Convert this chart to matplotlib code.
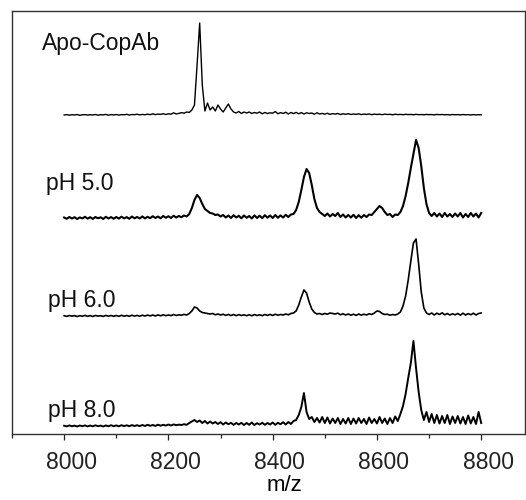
import numpy as np
import matplotlib
matplotlib.use("Agg")
import matplotlib.pyplot as plt
import matplotlib.transforms as mtransforms

# ---------------- data ----------------
mz_start, mz_step, n_pts = 8000, 5, 161
mz = [mz_start + mz_step * i for i in range(n_pts)]

labels = ["Apo-CopAb", "pH 5.0", "pH 6.0", "pH 8.0"]

apo = [
    0.0, 0.4, -0.2, 0.3, 0.0, 0.5, -0.3, 0.2, 0.4, -0.1,
    0.3, 0.0, 0.5, -0.2, 0.3, 0.1, 0.6, -0.2, 0.4, 0.0,
    0.5, -0.1, 0.4, 0.2, 0.7, 0.0, 0.5, 0.3, 0.8, 0.1,
    0.6, 0.2, 0.9, 0.3, 1.2, 0.4, 0.9, 0.6, 1.3, 0.5,
    1.2, 0.8, 2.2, 1.0, 1.6, 2.4, 1.8, 3.0, 2.6, 5.0,
    10.0, 50.0, 92.0, 30.0, 4.0, 12.0, 5.0, 8.0, 4.0, 10.0,
    6.0, 3.0, 7.0, 11.0, 6.0, 3.0, 2.0, 3.5, 1.5, 3.0,
    2.0, 3.0, 1.5, 2.5, 1.8, 3.0, 1.2, 2.5, 1.5, 2.2,
    1.8, 3.5, 1.2, 2.4, 1.5, 2.8, 1.0, 2.5, 1.4, 2.6,
    1.2, 2.4, 1.0, 2.2, 1.5, 2.0, 0.8, 2.2, 1.0, 1.6,
    0.8, 1.8, 0.6, 1.4, 0.9, 1.5, 0.5, 1.2, 0.7, 1.3,
    0.5, 1.0, 0.6, 1.2, 0.4, 0.9, 0.6, 1.0, 0.3, 0.9,
    0.5, 0.8, 0.3, 0.9, 0.5, 0.7, 0.2, 0.8, 0.4, 0.6,
    0.3, 0.7, 0.4, 0.6, 0.2, 0.7, 0.3, 0.5, 0.2, 0.6,
    0.3, 0.5, 0.1, 0.6, 0.3, 0.5, 0.2, 0.4, 0.1, 0.5,
    0.2, 0.4, 0.1, 0.5, 0.2, 0.4, 0.0, 0.4, 0.1, 0.3, 0.2,
]

ph5 = [
    0.5, -0.8, 1.0, -0.5, 0.8, -1.0, 0.6, -0.4, 1.2, -0.6,
    0.8, -0.9, 1.0, -0.3, 0.7, -1.0, 1.2, -0.5, 0.9, -0.7,
    1.0, -0.6, 1.3, -0.4, 0.9, -0.8, 1.5, -0.3, 1.0, -0.5,
    1.6, -0.4, 1.2, -0.2, 1.8, 0.0, 1.5, -0.3, 2.0, 0.2,
    1.8, 0.0, 2.2, 0.5, 2.0, 0.8, 2.5, 1.5, 4.0, 10.0,
    18.0, 23.0, 20.0, 14.0, 9.0, 7.0, 5.0, 4.5, 3.0, 3.5,
    1.5, 3.0, 0.5, 2.5, 0.0, 2.8, 0.5, 2.2, -0.3, 2.5,
    0.2, 2.0, -0.5, 2.6, 0.0, 2.3, -0.2, 2.8, 0.3, 2.5,
    0.0, 3.0, 0.2, 2.6, 0.5, 3.2, 1.0, 3.5, 4.0, 8.0,
    16.0, 28.0, 41.0, 49.0, 45.0, 33.0, 19.0, 10.0, 6.0, 4.0,
    2.0, 4.5, 1.5, 4.0, 2.0, 5.0, 1.0, 3.5, 0.5, 3.0,
    0.5, 3.2, 0.0, 2.8, 0.3, 3.0, 1.0, 3.5, 3.0, 6.0,
    9.0, 12.0, 10.0, 6.0, 3.0, 4.0, 1.0, 3.5, 3.0, 6.0,
    12.0, 22.0, 35.0, 50.0, 64.0, 78.0, 70.0, 52.0, 30.0, 14.0,
    5.0, 2.0, 5.0, 1.5, 4.5, 1.0, 5.0, 1.5, 4.0, 1.0,
    4.5, 1.5, 5.0, 0.5, 4.0, 1.0, 5.0, 1.5, 4.5, 0.5, 5.0,
]

ph6 = [
    0.3, -0.4, 0.5, -0.2, 0.4, -0.5, 0.3, -0.2, 0.6, -0.3,
    0.4, -0.5, 0.5, -0.1, 0.3, -0.4, 0.6, -0.2, 0.5, -0.3,
    0.5, -0.3, 0.7, -0.2, 0.5, -0.3, 0.8, -0.1, 0.6, -0.2,
    0.8, 0.0, 0.9, 0.1, 1.0, 0.0, 1.1, 0.2, 1.2, 0.3,
    1.0, 0.4, 1.5, 0.5, 1.2, 0.8, 1.6, 1.0, 2.5, 5.0,
    9.0, 8.0, 5.0, 3.5, 3.0, 2.5, 2.0, 2.5, 1.2, 2.0,
    1.0, 1.8, 0.6, 1.6, 0.5, 1.5, 0.3, 1.4, 0.5, 1.2,
    0.3, 1.3, 0.2, 1.4, 0.5, 1.2, 0.3, 1.5, 0.6, 1.6,
    0.5, 1.8, 0.8, 1.5, 1.0, 2.0, 1.2, 2.5, 3.0, 5.0,
    11.0, 19.0, 26.0, 23.0, 14.0, 7.0, 3.5, 2.0, 2.5, 1.5,
    2.5, 1.8, 3.0, 2.5, 2.0, 2.8, 1.2, 2.2, 1.0, 2.0,
    0.8, 1.8, 0.6, 2.0, 0.8, 1.8, 1.0, 2.2, 1.5, 3.0,
    5.0, 4.5, 2.5, 1.5, 1.8, 0.8, 1.5, 1.0, 2.0, 4.0,
    10.0, 20.0, 36.0, 55.0, 73.0, 77.0, 52.0, 24.0, 8.0, 3.0,
    1.5, 3.0, 1.0, 2.8, 1.5, 3.2, 1.2, 2.5, 1.0, 2.2,
    1.2, 2.5, 0.8, 2.8, 1.0, 2.4, 1.2, 2.8, 1.0, 2.5, 3.0,
]

ph8 = [
    0.3, -0.4, 0.6, -0.3, 0.4, -0.5, 0.5, -0.2, 0.6, -0.4,
    0.5, -0.3, 0.7, -0.2, 0.4, -0.5, 0.6, -0.3, 0.8, -0.2,
    0.6, -0.3, 0.8, -0.1, 0.7, -0.2, 0.9, 0.0, 0.8, -0.1,
    1.0, 0.0, 1.2, 0.2, 1.0, 0.1, 1.3, 0.3, 1.2, 0.4,
    1.5, 0.5, 1.6, 0.8, 1.4, 1.0, 1.8, 1.2, 3.0, 4.5,
    6.0, 4.0, 5.5, 3.0, 5.0, 2.5, 4.5, 2.5, 4.0, 2.0,
    3.8, 1.5, 3.5, 1.8, 3.2, 1.2, 3.0, 1.5, 3.2, 1.0,
    3.0, 1.2, 3.5, 1.0, 2.8, 1.5, 3.2, 1.2, 3.0, 1.5,
    3.5, 1.2, 3.2, 1.8, 3.8, 1.5, 4.0, 2.0, 5.0, 6.0,
    11.0, 19.0, 33.0, 14.0, 7.0, 9.0, 4.0, 8.0, 3.5, 9.0,
    3.0, 8.5, 2.5, 7.5, 3.0, 8.0, 2.0, 7.0, 2.5, 8.0,
    2.0, 7.5, 2.5, 8.0, 3.0, 7.0, 2.0, 8.5, 3.0, 7.0,
    2.5, 9.0, 3.0, 7.5, 2.0, 8.0, 3.0, 9.5, 5.0, 12.0,
    20.0, 32.0, 48.0, 63.0, 85.0, 58.0, 34.0, 16.0, 6.0, 14.0,
    4.0, 12.0, 3.0, 11.0, 2.5, 10.0, 3.0, 11.0, 2.0, 9.5,
    3.0, 10.0, 2.5, 9.0, 2.0, 10.5, 2.5, 9.0, 2.0, 14.0, 3.0,
]

series = [apo, ph5, ph6, ph8]
xticks = [8000, 8200, 8400, 8600, 8800]
xlabel = "m/z"

# ---------------- layout ----------------
offsets = [319, 216, 118, 8]                # vertical stacking of traces
label_pos = [(7958, 384), (7965, 244), (7970, 127), (7970, 17)]
line_widths = [1.0, 1.5, 1.2, 1.4]

plt.rcParams['font.family'] = ['Liberation Sans', 'DejaVu Sans']

fig = plt.figure(figsize=(5.26, 5.0), dpi=100)
ax = fig.add_axes([12 / 526, 66 / 500, 513 / 526, 423 / 500])

for y, off, lw in zip(series, offsets, line_widths):
    ax.plot(mz, np.asarray(y) + off, color='black', lw=lw)

for lab, (lx, ly) in zip(labels, label_pos):
    ax.text(lx, ly, lab, fontsize=16.5, ha='left', va='baseline', color='#111111')

ax.set_xlim(7900, 8884)
ax.set_ylim(0, 423)
ax.set_yticks([])
ax.set_xticks(xticks)
ax.set_xticks([7900, 8100, 8300, 8500, 8700], minor=True)
ax.tick_params(axis='x', which='major', direction='out', length=4, width=0.9,
               labelsize=16.5, pad=8, colors='#222222')
ax.tick_params(axis='x', which='minor', direction='out', length=3, width=0.9,
               colors='#222222')
for s in ax.spines.values():
    s.set_linewidth(1.0)
    s.set_color('#333333')

ax.set_xlabel(xlabel, fontsize=16, va='top')
ax.xaxis.set_label_coords(0.532, -0.097)

shift = mtransforms.ScaledTranslation(7 / 100, 0, fig.dpi_scale_trans)
for lbl in ax.get_xticklabels():
    lbl.set_transform(lbl.get_transform() + shift)

fig.savefig("out.png", dpi=100)
